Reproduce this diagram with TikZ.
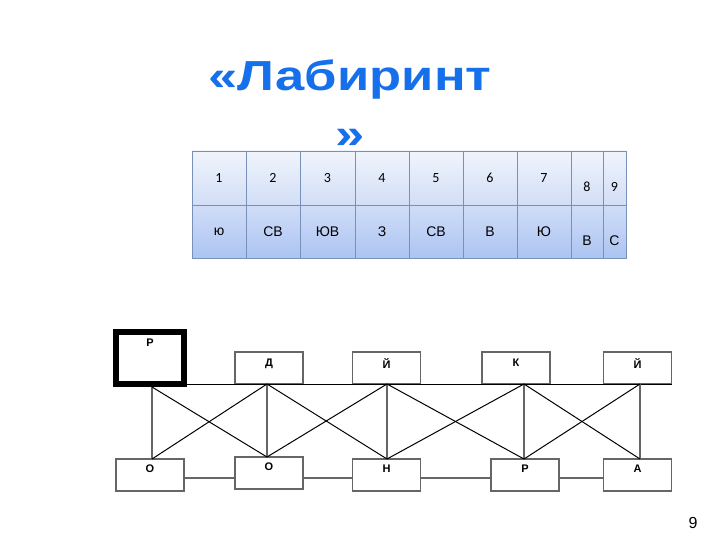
\documentclass[tikz,border=0pt]{standalone}
\usepackage{fontspec}
\setmainfont{Liberation Sans}
\newfontfamily\calib{Carlito}
\usetikzlibrary{positioning}
\definecolor{titleblue}{RGB}{22,112,236}
\definecolor{rowAtop}{RGB}{240,244,252}
\definecolor{rowAbot}{RGB}{210,222,246}
\definecolor{rowBtop}{RGB}{208,221,248}
\definecolor{rowBbot}{RGB}{172,196,242}
\definecolor{gridc}{RGB}{120,145,185}
\tikzset{
  numtxt/.style={font=\calib\fontsize{14}{16}\selectfont, inner sep=0pt},
  lettxt/.style={font=\fontsize{14}{16}\selectfont, inner sep=0pt},
  mazebox/.style={draw=black!60, line width=1.2pt, outer sep=0pt, minimum width=68pt, minimum height=32pt, inner sep=0pt},
  mazelbl/.style={anchor=north, font=\bfseries\fontsize{11}{13}\selectfont},
  vline/.style={draw=black!60, line width=1.2pt},
  dline/.style={draw=black, line width=1pt},
  hline/.style={draw=black!60, line width=1.2pt},
}
\begin{document}
\begin{tikzpicture}[x=1pt,y=-1pt]
\useasboundingbox (0,0) rectangle (720,540);
% title
\node[text=titleblue, font=\bfseries\fontsize{42}{58}\selectfont, align=center, xscale=1.25, anchor=north] (title) at (350,56) {«Лабиринт\\»};
% table
\fill[top color=rowAtop, bottom color=rowAbot] (192,151) rectangle (626,205);
\fill[top color=rowBtop, bottom color=rowBbot] (192,205) rectangle (626,258);
\draw[gridc, line width=0.8pt] (192,151) rectangle (626,258);
\draw[gridc, line width=0.8pt] (192,205) -- (626,205);
\foreach \x in {246,300,355,409,463,517,571,603}
  \draw[gridc, line width=0.8pt] (\x,151) -- (\x,258);
\node[numtxt] (n1) at (219,178) {1};
\node[numtxt] (n2) at (273,178) {2};
\node[numtxt] (n3) at (327.5,178) {3};
\node[numtxt] (n4) at (382,178) {4};
\node[numtxt] (n5) at (436,178) {5};
\node[numtxt] (n6) at (490,178) {6};
\node[numtxt] (n7) at (544,178) {7};
\node[numtxt] (n8) at (587,187) {8};
\node[numtxt] (n9) at (614.5,187) {9};
\node[lettxt] (l1) at (219,232) {ю};
\node[lettxt] (l2) at (273,232) {СВ};
\node[lettxt] (l3) at (327.5,232) {ЮВ};
\node[lettxt] (l4) at (382,232) {З};
\node[lettxt] (l5) at (436,232) {СВ};
\node[lettxt] (l6) at (490,232) {В};
\node[lettxt] (l7) at (544,232) {Ю};
\node[lettxt] (l8) at (587,241) {В};
\node[lettxt] (l9) at (614.5,241) {С};
% maze boxes
\node[draw=black, line width=6pt, minimum width=68pt, minimum height=52pt, inner sep=0pt,
      label={[mazelbl, yshift=-6pt]north:Р}] (R0) at (150,358) {};
\node[mazebox, label={[mazelbl, yshift=-3pt]north:Д}] (D) at (269,368) {};
\node[mazebox, label={[mazelbl, yshift=-3pt]north:Й}] (J1) at (386.5,368) {};
\node[mazebox, label={[mazelbl, yshift=-3pt]north:К}] (K) at (516,368) {};
\node[mazebox, label={[mazelbl, yshift=-3pt]north:Й}] (J2) at (637.5,368) {};
\node[mazebox, label={[mazelbl, yshift=-2pt]north:О}] (O1) at (150,475) {};
\node[mazebox, label={[mazelbl, yshift=-2pt]north:О}] (O2) at (269,473) {};
\node[mazebox, label={[mazelbl, yshift=-2pt]north:Н}] (N) at (386.5,475) {};
\node[mazebox, label={[mazelbl, yshift=-2pt]north:Р}] (R2) at (525,475) {};
\node[mazebox, label={[mazelbl, yshift=-2pt]north:А}] (A) at (637.5,475) {};
% junction points
\coordinate (t1) at (152,387);
\coordinate (t2) at (267,384);
\coordinate (t3) at (387,384);
\coordinate (t4) at (524,384);
\coordinate (t5) at (640,384);
\coordinate (b1) at (152,459);
\coordinate (b2) at (267,457);
\coordinate (b3) at (387,459);
\coordinate (b4) at (524,459);
\coordinate (b5) at (640,459);
% top line
\draw[dline] ([yshift=3pt]R0.south east) -- (J2.south east);
% verticals
\foreach \i in {1,...,5} \draw[vline] (t\i) -- (b\i);
% diagonals
\draw[dline] (t1) -- (b2);
\draw[dline] (b1) -- (t2);
\draw[dline] (t2) -- (b3);
\draw[dline] (b2) -- (t3);
\draw[dline] (t3) -- (b4);
\draw[dline] (b3) -- (t4);
\draw[dline] (t4) -- (b5);
\draw[dline] (b4) -- (t5);
% bottom horizontals
\coordinate (hy) at (0,478);
\draw[hline] (O1.east |- hy) -- (O2.west |- hy);
\draw[hline] (O2.east |- hy) -- (N.west |- hy);
\draw[hline] (N.east |- hy) -- (R2.west |- hy);
\draw[hline] (R2.east |- hy) -- (A.west |- hy);
% page number
\node[font=\fontsize{16}{18}\selectfont, inner sep=0pt] (pg) at (693,523) {9};
\end{tikzpicture}
\end{document}
